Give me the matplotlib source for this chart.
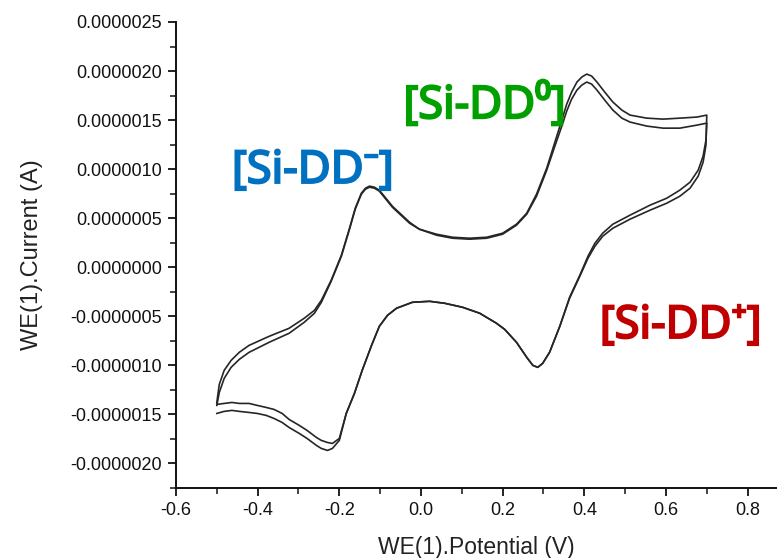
import matplotlib
matplotlib.use("Agg")
import matplotlib.pyplot as plt
import matplotlib.patheffects as pe
from matplotlib.ticker import MultipleLocator, FormatStrFormatter

# ---------------- data (potential in V, current in uA) ----------------
# forward (positive-going) sweep
fwd_E = [-0.500, -0.494, -0.482, -0.465, -0.445, -0.421, -0.372, -0.323, -0.286,
         -0.261, -0.244, -0.220, -0.195, -0.175, -0.161, -0.146, -0.136, -0.126,
         -0.114, -0.102, -0.070, -0.028, -0.004, 0.038, 0.077, 0.119, 0.161,
         0.200, 0.234, 0.259, 0.283, 0.308, 0.328, 0.345, 0.357, 0.369, 0.382,
         0.394, 0.406, 0.418, 0.431, 0.450, 0.470, 0.492, 0.512, 0.553, 0.593,
         0.634, 0.676, 0.700]
fwd_I_cycle1 = [-1.378, -1.194, -1.051, -0.949, -0.867, -0.796, -0.704, -0.622, -0.520,
                -0.439, -0.337, -0.133, 0.122, 0.398, 0.602, 0.755, 0.806, 0.827,
                0.816, 0.786, 0.622, 0.459, 0.388, 0.337, 0.306, 0.296, 0.306,
                0.347, 0.439, 0.551, 0.745, 1.010, 1.276, 1.500, 1.663, 1.786, 1.888,
                1.939, 1.969, 1.949, 1.888, 1.786, 1.684, 1.602, 1.551, 1.520, 1.510,
                1.520, 1.531, 1.551]
fwd_I_cycle2 = [-1.408, -1.276, -1.133, -1.020, -0.939, -0.867, -0.765, -0.673, -0.561,
                -0.469, -0.357, -0.143, 0.112, 0.388, 0.592, 0.745, 0.796, 0.816,
                0.806, 0.776, 0.612, 0.449, 0.388, 0.327, 0.296, 0.286, 0.296,
                0.337, 0.429, 0.541, 0.724, 0.990, 1.235, 1.439, 1.592, 1.714, 1.806,
                1.857, 1.888, 1.867, 1.806, 1.704, 1.602, 1.520, 1.480, 1.439, 1.418,
                1.418, 1.449, 1.469]

# reverse (negative-going) sweep
rev_E = [0.700, 0.698, 0.691, 0.679, 0.659, 0.634, 0.602, 0.561, 0.512, 0.470,
         0.445, 0.426, 0.409, 0.389, 0.364, 0.340, 0.315, 0.298, 0.286, 0.274,
         0.259, 0.234, 0.205, 0.185, 0.144, 0.102, 0.058, 0.021, -0.021, -0.060,
         -0.082, -0.102, -0.121, -0.144, -0.163, -0.183, -0.200, -0.217, -0.229,
         -0.244, -0.256, -0.279, -0.298, -0.323, -0.340, -0.360, -0.379, -0.401,
         -0.421, -0.445, -0.463, -0.482, -0.500]
rev_I_cycle1 = [1.551, 1.245, 1.071, 0.929, 0.806, 0.724, 0.653, 0.582, 0.490, 0.398,
                0.316, 0.214, 0.092, -0.092, -0.316, -0.602, -0.867, -0.980, -1.020, -1.000,
                -0.918, -0.765, -0.633, -0.571, -0.469, -0.408, -0.367, -0.347, -0.357, -0.418,
                -0.490, -0.602, -0.796, -1.051, -1.286, -1.490, -1.745, -1.796, -1.786,
                -1.765, -1.735, -1.663, -1.612, -1.551, -1.490, -1.449, -1.429, -1.408,
                -1.388, -1.388, -1.378, -1.388, -1.398]
rev_I_cycle2 = [1.469, 1.296, 1.133, 0.990, 0.867, 0.786, 0.704, 0.633, 0.531, 0.439,
                0.347, 0.245, 0.112, -0.082, -0.306, -0.602, -0.867, -0.980, -1.020, -1.000,
                -0.918, -0.765, -0.633, -0.571, -0.469, -0.408, -0.367, -0.347, -0.357, -0.418,
                -0.490, -0.602, -0.796, -1.051, -1.286, -1.490, -1.765, -1.847, -1.867,
                -1.847, -1.816, -1.745, -1.694, -1.633, -1.582, -1.541, -1.510, -1.490,
                -1.480, -1.469, -1.459, -1.469, -1.490]

x_ticks = [-0.6, -0.4, -0.2, 0.0, 0.2, 0.4, 0.6, 0.8]
labels = ["[Si-DD\u207b]", "[Si-DD\u2070]", "[Si-DD\u207a]"]
label_pos = [(-0.463, 0.86), (-0.043, 1.52), (0.438, -0.72)]
label_colors = ["#0070C0", "#00A000", "#C00000"]

# ---------------- figure ----------------
plt.rcParams['font.family'] = ['Liberation Sans', 'DejaVu Sans']
fig = plt.figure(figsize=(7.77, 5.58), dpi=100)
ax = fig.add_axes([176 / 777, 1 - 488 / 558, 1 - 176 / 777, (488 - 22) / 558])

uA = 1e-6
for fI, rI in [(fwd_I_cycle1, rev_I_cycle1), (fwd_I_cycle2, rev_I_cycle2)]:
    E = fwd_E + rev_E
    I = [v * uA for v in fI + rI]
    ax.plot(E, I, color="#262626", lw=1.2, solid_joinstyle='round')

ax.set_xlim(-0.6, 0.872)
ax.set_ylim(-2.25e-6, 2.5e-6)
ax.set_xticks(x_ticks)
ax.xaxis.set_major_formatter(FormatStrFormatter('%.1f'))
ax.xaxis.set_minor_locator(MultipleLocator(0.1))
ax.yaxis.set_major_locator(MultipleLocator(0.5e-6))
ax.yaxis.set_minor_locator(MultipleLocator(0.25e-6))
ax.yaxis.set_major_formatter(FormatStrFormatter('%.7f'))

for s in ['top', 'right']:
    ax.spines[s].set_visible(False)
for s in ['left', 'bottom']:
    ax.spines[s].set_linewidth(1.4)
    ax.spines[s].set_color('#111111')

ax.tick_params(which='major', direction='out', length=6, width=1.3,
               labelsize=13, pad=4, colors='#111111')
ax.tick_params(which='minor', direction='out', length=4, width=1.1, colors='#111111')

ax.set_xlabel("WE(1).Potential (V)", fontsize=16.5, labelpad=12, color='#222222')
ax.set_ylabel("WE(1).Current (A)", fontsize=17, labelpad=20, color='#222222')

for txt, (ex, iy), c in zip(labels, label_pos, label_colors):
    t = ax.text(ex, iy * uA, txt, color=c, fontsize=32.5, fontweight='bold',
                family=['Noto Sans', 'DejaVu Sans'], ha='left', va='baseline',
                clip_on=False)
    t.set_path_effects([pe.withStroke(linewidth=1.5, foreground=c,
                                      joinstyle='miter')])

fig.savefig("out.png", dpi=100)
